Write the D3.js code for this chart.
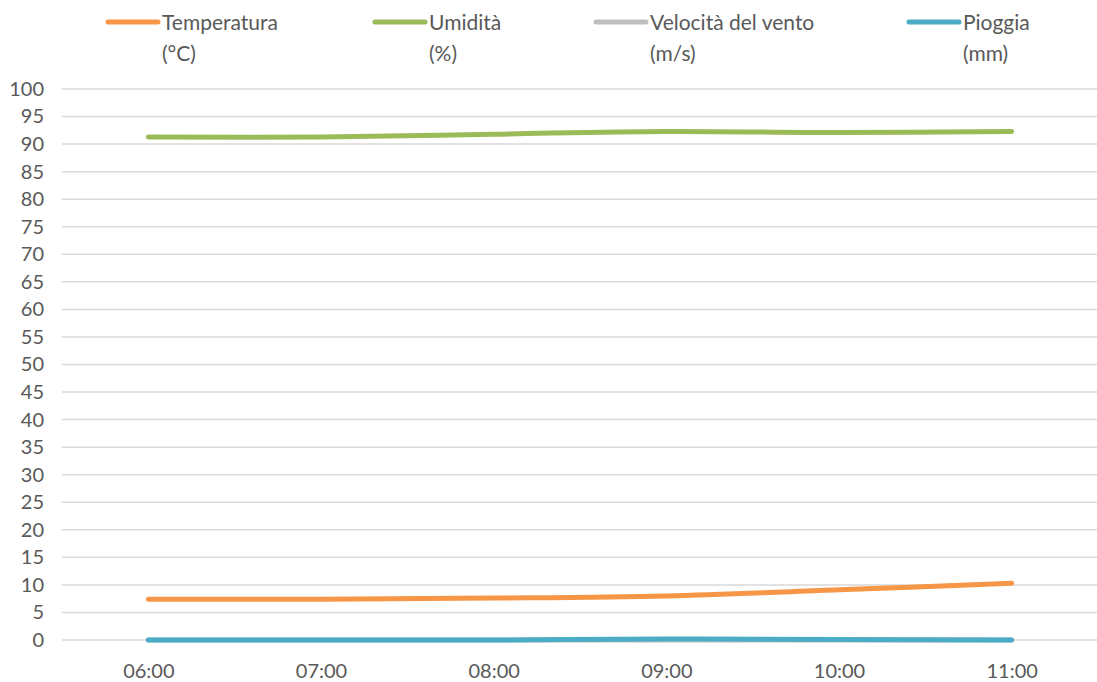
<!DOCTYPE html>
<html>
<head>
<meta charset="utf-8">
<script src="https://cdn.jsdelivr.net/npm/d3@7"></script>
<style>
  body { margin: 0; background: #fff; }
  text { font-family: Lato, "Noto Sans", sans-serif; fill: #595959; }
</style>
</head>
<body>
<svg id="chart" width="1097" height="682"></svg>
<script>
// orari delle rilevazioni
var hours = ["06:00", "07:00", "08:00", "09:00", "10:00", "11:00"];
var temperatura = [7.4, 7.4, 7.6, 8.0, 9.1, 10.3];
var umidita = [91.3, 91.3, 91.8, 92.3, 92.1, 92.3];
var vento = [0, 0, 0, 0, 0, 0];
var pioggia = [0, 0, 0, 0.2, 0.1, 0];
var yTicks = d3.range(0, 101, 5);

var seriesNames = [["Temperatura", "(°C)"], ["Umidità", "(%)"], ["Velocità del vento", "(m/s)"], ["Pioggia", "(mm)"]];
var seriesValues = [temperatura, umidita, vento, pioggia];
var colors = ["#F79646", "#9BBB59", "#BFBFBF", "#4BACC6"];

var width = 1097, height = 682,
    margin = {left: 62, right: -1, top: 89, bottom: 42};

var svg = d3.select("#chart");

var x = d3.scalePoint()
  .domain(hours)
  .range([margin.left, width - margin.right])
  .padding(0.5);

var y = d3.scaleLinear()
  .domain([0, 100])
  .range([height - margin.bottom, margin.top]);

// griglia orizzontale
svg.append("g")
  .selectAll("line")
  .data(yTicks)
  .enter().append("line")
  .attr("x1", margin.left)
  .attr("x2", width)
  .attr("y1", function(d){ return y(d); })
  .attr("y2", function(d){ return y(d); })
  .attr("stroke", "#D9D9D9")
  .attr("stroke-width", 1.5);

var yAxis = svg.append("g")
  .attr("transform", "translate(" + (margin.left - 18) + ",0)")
  .call(d3.axisLeft(y).tickValues(yTicks).tickSize(0).tickPadding(0));
yAxis.select(".domain").remove();
yAxis.selectAll("text").style("font-size", "20px").attr("fill", "#595959");

var xAxis = svg.append("g")
  .attr("transform", "translate(0," + (height - margin.bottom + 20) + ")")
  .call(d3.axisBottom(x).tickSize(0).tickPadding(4));
xAxis.select(".domain").remove();
xAxis.selectAll("text").style("font-size", "20px").attr("fill", "#595959");

var line = d3.line()
  .x(function(d, i){ return x(hours[i]); })
  .y(function(d){ return y(d); })
  .curve(d3.curveCatmullRom.alpha(0.5));

svg.append("g")
  .selectAll("path")
  .data(seriesValues)
  .enter().append("path")
  .attr("d", line)
  .attr("fill", "none")
  .attr("stroke", function(d, i){ return colors[i]; })
  .attr("stroke-width", 5)
  .attr("stroke-linecap", "round")
  .attr("stroke-linejoin", "round");

// legenda
var legendX = [108, 375, 596, 909];
var legend = svg.append("g")
  .selectAll("g")
  .data(seriesNames)
  .enter().append("g")
  .attr("transform", function(d, i){ return "translate(" + legendX[i] + ",22)"; });

legend.append("line")
  .attr("x1", 0).attr("x2", 50)
  .attr("stroke", function(d, i){ return colors[i]; })
  .attr("stroke-width", 5)
  .attr("stroke-linecap", "round");

legend.append("text")
  .attr("x", 54).attr("y", 8)
  .style("font-size", "21px")
  .text(function(d){ return d[0]; });

legend.append("text")
  .attr("x", 54).attr("y", 39)
  .style("font-size", "21px")
  .text(function(d){ return d[1]; });
</script>
</body>
</html>
